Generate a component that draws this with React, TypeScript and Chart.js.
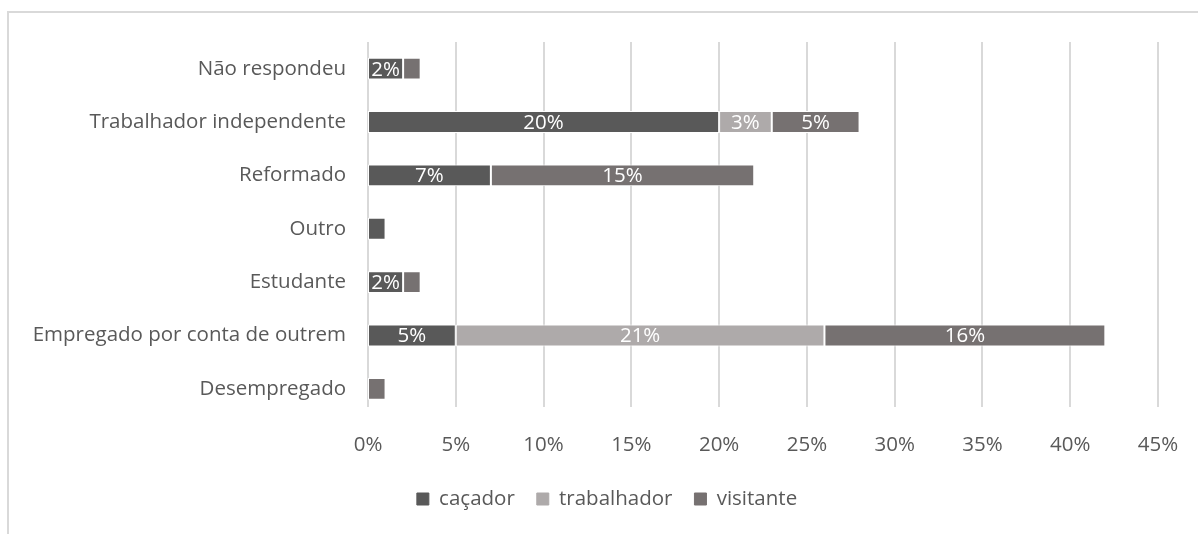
import React, { useEffect, useRef } from "react";
import { Chart, registerables } from "chart.js";

Chart.register(...registerables);

const categories = [
  "Não respondeu",
  "Trabalhador independente",
  "Reformado",
  "Outro",
  "Estudante",
  "Empregado por conta de outrem",
  "Desempregado",
];
const cacador = [2, 20, 7, 1, 2, 5, 0];
const trabalhador = [0, 3, 0, 0, 0, 21, 0];
const visitante = [1, 5, 15, 0, 1, 16, 1];
const xTicks = [0, 5, 10, 15, 20, 25, 30, 35, 40, 45];

const FONT = "'Open Sans', sans-serif";
const TEXT = "#595959";
const FS = 20.5;

const gridPlugin = {
  id: "vGrid",
  beforeDatasetsDraw(chart: any) {
    const ctx = chart.ctx;
    const xs = chart.scales.x;
    const area = chart.chartArea;
    ctx.save();
    ctx.strokeStyle = "#d9d9d9";
    ctx.lineWidth = 2;
    xTicks.forEach((v) => {
      const x = Math.round(xs.getPixelForValue(v));
      ctx.beginPath();
      ctx.moveTo(x, area.top);
      ctx.lineTo(x, area.bottom - 8.5);
      ctx.stroke();
    });
    ctx.restore();
  },
};

const legendShift = {
  id: "legendShift",
  afterLayout(chart: any) {
    if (chart.legend) {
      chart.legend.left += 28;
      chart.legend.right += 28;
    }
  },
};

const labelPlugin = {
  id: "barLabels",
  afterDatasetsDraw(chart: any) {
    const ctx = chart.ctx;
    ctx.save();
    ctx.font = `${FS}px ${FONT}`;
    ctx.fillStyle = "#ffffff";
    ctx.textAlign = "center";
    ctx.textBaseline = "middle";
    chart.data.datasets.forEach((ds: any, di: number) => {
      const meta = chart.getDatasetMeta(di);
      meta.data.forEach((el: any, i: number) => {
        const v = ds.data[i];
        if (v >= 2) {
          const x = (el.x + el.base) / 2;
          ctx.fillText(v + "%", x, el.y + 1);
        }
      });
    });
    ctx.restore();
  },
};

export default function App() {
  const ref = useRef<HTMLCanvasElement>(null);
  useEffect(() => {
    if (!ref.current) return;
    const chart = new Chart(ref.current, {
      type: "bar",
      data: {
        labels: categories,
        datasets: [
          { label: "caçador", data: cacador, backgroundColor: "#595959", borderColor: "#ffffff", borderWidth: 1, borderSkipped: false },
          { label: "trabalhador", data: trabalhador, backgroundColor: "#aeaaaa", borderColor: "#ffffff", borderWidth: 1, borderSkipped: false },
          { label: "visitante", data: visitante, backgroundColor: "#767171", borderColor: "#ffffff", borderWidth: 1, borderSkipped: false },
        ],
      },
      options: {
        indexAxis: "y",
        animation: false,
        responsive: false,
        maintainAspectRatio: false,
        layout: { padding: { top: 42, right: 40, bottom: 14.75, left: 0 } },
        datasets: { bar: { barPercentage: 0.41, categoryPercentage: 1 } },
        scales: {
          x: {
            stacked: true,
            min: 0,
            max: 45,
            afterBuildTicks: (s: any) => {
              s.ticks = xTicks.map((v) => ({ value: v }));
            },
            afterFit: (s: any) => {
              s.height = 51.25;
            },
            ticks: {
              callback: (v: any) => v + "%",
              color: TEXT,
              font: { family: FONT, size: FS },
              padding: 17,
            },
            grid: { display: false, drawTicks: false },
            border: { display: false },
          },
          y: {
            stacked: true,
            afterFit: (s: any) => {
              s.width = 368;
            },
            ticks: {
              color: TEXT,
              font: { family: FONT, size: FS },
              padding: 22,
            },
            grid: { display: false, drawTicks: false },
            border: { display: false },
          },
        },
        plugins: {
          legend: {
            position: "bottom",
            labels: {
              color: TEXT,
              font: { family: FONT, size: FS },
              boxWidth: 12,
              boxHeight: 12,
              padding: 22,
              generateLabels: (c: any) =>
                Chart.defaults.plugins.legend.labels
                  .generateLabels(c)
                  .map((l: any) => ({ ...l, strokeStyle: l.fillStyle })),
            },
          },
          tooltip: { enabled: false },
        },
      },
      plugins: [gridPlugin, labelPlugin, legendShift],
    });
    return () => chart.destroy();
  }, []);
  return (
    <div style={{ position: "fixed", left: 0, top: 0, width: 1198, height: 534, background: "#fff" }}>
      <div
        style={{
          position: "absolute",
          left: 7,
          top: 11,
          width: 1200,
          height: 540,
          borderLeft: "2px solid #d9d9d9",
          borderTop: "2px solid #d9d9d9",
        }}
      />
      <canvas ref={ref} width={1198} height={534} style={{ position: "absolute", left: 0, top: 0 }} />
    </div>
  );
}
